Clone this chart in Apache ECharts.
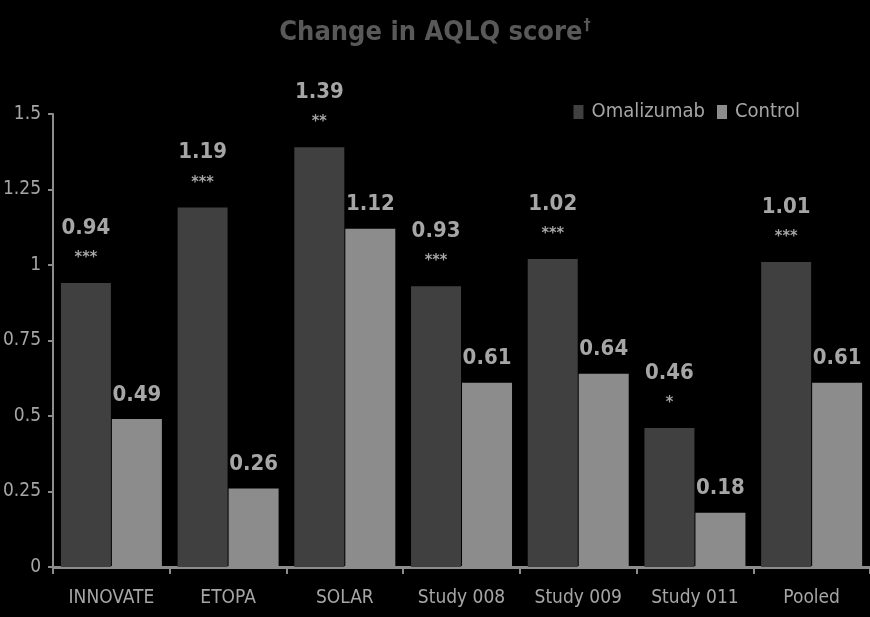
<!DOCTYPE html>
<html><head><meta charset="utf-8">
<script src="https://cdn.jsdelivr.net/npm/echarts@6/dist/echarts.min.js"></script>
<style>html,body{margin:0;padding:0;background:#000;}#c{width:870px;height:617px;}</style>
</head><body><div id="c"></div>
<script>
const categories = ['INNOVATE','ETOPA','SOLAR','Study 008','Study 009','Study 011','Pooled'];
const omalizumab = [0.94,1.19,1.39,0.93,1.02,0.46,1.01];
const control = [0.49,0.26,1.12,0.61,0.64,0.18,0.61];
const significance = ['***','***','**','***','***','*','***'];
const yTicks = [0,0.25,0.5,0.75,1,1.25,1.5];

const font = '"DejaVu Sans Condensed", "Liberation Sans Narrow", sans-serif';
const chart = echarts.init(document.getElementById('c'));
chart.setOption({
  backgroundColor: '#000',
  animation: false,
  title: {
    text: 'Change in AQLQ score{d|†}',
    left: 'center', top: 13,
    textStyle: {
      color: '#595959', fontFamily: font, fontSize: 27, fontWeight: 'bold',
      rich: { d: { color: '#595959', fontFamily: font, fontSize: 16, fontWeight: 'bold', verticalAlign: 'top', padding: [0,0,13,1] } }
    }
  },
  legend: {
    right: 65, top: 97, itemWidth: 10, itemHeight: 14, itemGap: 12,
    icon: 'rect',
    textStyle: { color: '#a6a6a6', fontFamily: font, fontSize: 20, padding: [0,0,0,3] },
    data: ['Omalizumab','Control']
  },
  grid: { left: 52, right: 0, top: 114, bottom: 50 },
  xAxis: {
    type: 'category', data: categories,
    axisLine: { lineStyle: { color: '#8c8c8c', width: 3 } },
    axisTick: { show: true, length: 7, lineStyle: { color: '#8c8c8c', width: 2 } },
    axisLabel: { color: '#a6a6a6', fontFamily: font, fontSize: 19, margin: 22, interval: 0 }
  },
  yAxis: {
    type: 'value', min: 0, max: 1.5, interval: 0.25,
    splitLine: { show: false },
    axisLine: { show: true, lineStyle: { color: '#8c8c8c', width: 2 } },
    axisTick: { show: true, length: 5, lineStyle: { color: '#8c8c8c', width: 2 } },
    axisLabel: { color: '#a6a6a6', fontFamily: font, fontSize: 19, margin: 12,
      formatter: v => yTicks.includes(v) ? String(v) : '' }
  },
  series: [
    {
      name: 'Omalizumab', type: 'bar', barWidth: 50, barGap: '2%',
      itemStyle: { color: '#404040' },
      data: omalizumab,
      label: {
        show: true, position: 'top', distance: 12,
        formatter: p => '{v|' + p.value.toFixed(2) + '}\n{s|' + significance[p.dataIndex] + '}',
        rich: {
          v: { color: '#a6a6a6', fontFamily: font, fontSize: 22, fontWeight: 'bold', lineHeight: 34 },
          s: { color: '#a6a6a6', fontFamily: font, fontSize: 16, fontWeight: 'bold', lineHeight: 26 }
        }
      }
    },
    {
      name: 'Control', type: 'bar', barWidth: 50,
      itemStyle: { color: '#8c8c8c' },
      data: control,
      label: {
        show: true, position: 'top', distance: 13,
        color: '#a6a6a6', fontFamily: font, fontSize: 22, fontWeight: 'bold',
        formatter: p => p.value.toFixed(2)
      }
    }
  ]
});
</script></body></html>
